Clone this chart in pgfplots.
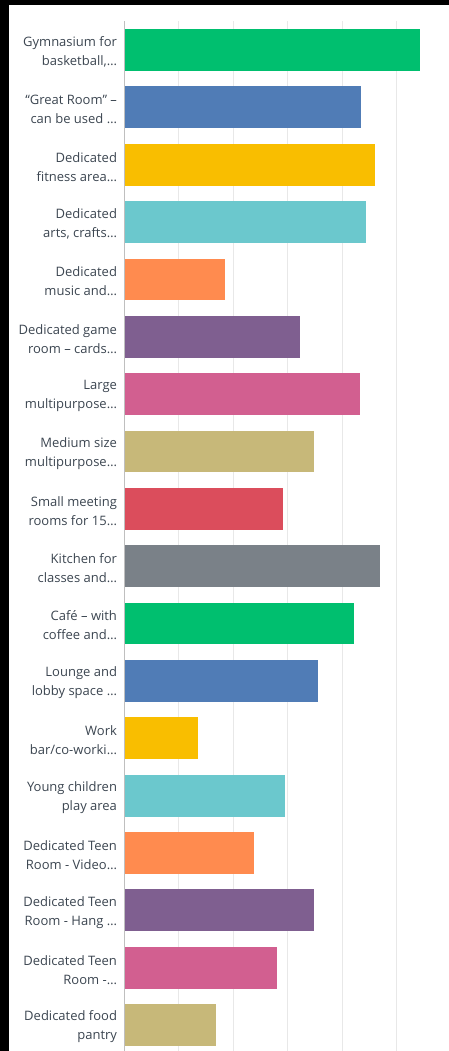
\documentclass[border=0pt]{standalone}
\usepackage{pgfplots}
\pgfplotsset{compat=1.18}
\usepackage{fontspec}
\setmainfont{Open Sans}
\definecolor{cgreen}{HTML}{00BF6F}
\definecolor{cblue}{HTML}{507CB6}
\definecolor{cyellow}{HTML}{F9BE00}
\definecolor{cteal}{HTML}{6BC8CD}
\definecolor{corange}{HTML}{FF8B4F}
\definecolor{cpurple}{HTML}{7F5F90}
\definecolor{cpink}{HTML}{D25F90}
\definecolor{ctan}{HTML}{C7B879}
\definecolor{cred}{HTML}{DB4D5C}
\definecolor{cgray}{HTML}{7A8188}
\definecolor{labeltext}{HTML}{3B4550}
\begin{document}
\begin{tikzpicture}
\useasboundingbox (0,0) rectangle (449bp,1051bp);
\begin{axis}[
    at={(124.5bp,0bp)}, anchor=south west,
    scale only axis,
    width=324.5bp, height=1030bp,
    xmin=0, xmax=5.965,
    ymin=-0.506, ymax=17.453,
    y dir=reverse,
    axis line style={draw=none},
    xtick={1,2,3,4,5}, xticklabels={},
    xmajorgrids=true,
    grid style={color=black!9, line width=1bp},
    extra x ticks={0}, extra x tick labels={},
    extra x tick style={grid style={color=black!25, line width=1bp}},
    ytick={0,...,17},
    yticklabels={
        {Gymnasium for\\basketball,…},
        {“Great Room” –\\can be used …},
        {Dedicated\\fitness area…},
        {Dedicated\\arts, crafts…},
        {Dedicated\\music and…},
        {Dedicated game\\room – cards…},
        {Large\\multipurpose…},
        {Medium size\\multipurpose…},
        {Small meeting\\rooms for 15…},
        {Kitchen for\\classes and…},
        {Café – with\\coffee and…},
        {Lounge and\\lobby space …},
        {Work\\bar/co-worki…},
        {Young children\\play area},
        {Dedicated Teen\\Room - Video…},
        {Dedicated Teen\\Room - Hang …},
        {Dedicated Teen\\Room -…},
        {Dedicated food\\pantry}},
    yticklabel style={align=right, text=labeltext,
        font=\fontsize{13bp}{19bp}\selectfont, xshift=-4bp, yshift=-2bp},
    major tick length=0pt,
    tick style={draw=none},
    xbar, bar width=0.73, bar shift=0pt,
    every axis plot/.append style={draw=none},
]
\addplot[fill=cgreen]  coordinates {(5.43,0)};
\addplot[fill=cblue]   coordinates {(4.35,1)};
\addplot[fill=cyellow] coordinates {(4.60,2)};
\addplot[fill=cteal]   coordinates {(4.44,3)};
\addplot[fill=corange] coordinates {(1.85,4)};
\addplot[fill=cpurple] coordinates {(3.23,5)};
\addplot[fill=cpink]   coordinates {(4.33,6)};
\addplot[fill=ctan]    coordinates {(3.48,7)};
\addplot[fill=cred]    coordinates {(2.91,8)};
\addplot[fill=cgray]   coordinates {(4.70,9)};
\addplot[fill=cgreen]  coordinates {(4.22,10)};
\addplot[fill=cblue]   coordinates {(3.56,11)};
\addplot[fill=cyellow] coordinates {(1.35,12)};
\addplot[fill=cteal]   coordinates {(2.95,13)};
\addplot[fill=corange] coordinates {(2.38,14)};
\addplot[fill=cpurple] coordinates {(3.48,15)};
\addplot[fill=cpink]   coordinates {(2.80,16)};
\addplot[fill=ctan]    coordinates {(1.68,17)};
\end{axis}
\fill[black] (0,1046bp) rectangle (449bp,1051bp);
\fill[black] (0,0) rectangle (9bp,1051bp);
\end{tikzpicture}
\end{document}
